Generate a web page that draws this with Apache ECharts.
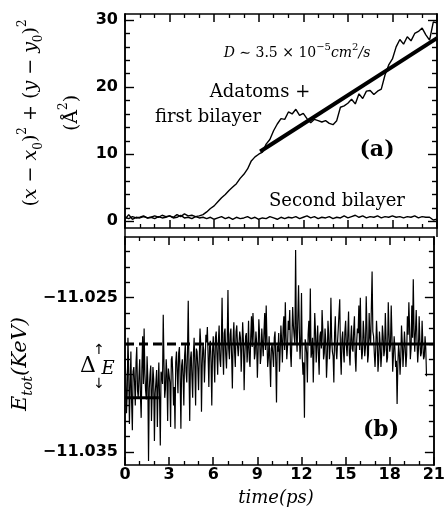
<!DOCTYPE html>
<html><head><meta charset="utf-8">
<script src="https://cdn.jsdelivr.net/npm/echarts@6/dist/echarts.min.js"></script>
<style>html,body{margin:0;padding:0;background:#fff}#c{width:448px;height:525px}</style>
</head><body><div id="c"></div>
<script>
// ---------- Panel (a): mean square displacement ----------
const timeA = [0,0.25,0.5,0.75,1,1.25,1.5,1.75,2,2.25,2.5,2.75,3,3.25,3.5,3.75,4,4.25,4.5,4.75,
  5,5.25,5.5,5.75,6,6.25,6.5,6.75,7,7.25,7.5,7.75,8,8.25,8.5,8.75,9,9.25,9.5,9.75,
  10,10.25,10.5,10.75,11,11.25,11.5,11.75,12,12.25,12.5,12.75,13,13.25,13.5,13.75,14,14.25,14.5,14.75,
  15,15.25,15.5,15.75,16,16.25,16.5,16.75,17,17.25,17.5,17.75,18,18.25,18.5,18.75,19,19.25,19.5,19.75,
  20,20.25,20.5,20.75,21];
const adatoms = [0.3,1.0,0.3,0.6,0.5,0.7,0.5,0.6,0.8,0.6,0.9,0.7,0.8,0.6,1.0,0.7,1.1,0.8,0.9,0.7,
  0.8,1.0,1.4,1.9,2.3,2.9,3.5,4.0,4.6,5.1,5.6,6.4,7.0,7.8,9.0,9.6,10.0,10.3,11.5,12.2,
  13.5,14.5,15.3,15.2,16.3,16.0,16.7,15.8,16.1,15.3,14.7,15.2,15.0,14.8,15.0,14.6,14.4,15.0,17.0,17.2,
  17.6,18.2,17.5,19.0,18.3,19.4,19.5,18.9,19.4,19.7,21.8,23.3,24.2,26.0,27.1,26.4,27.5,26.9,28.0,28.3,
  28.8,27.8,27.0,29.7,29.6];
const secondBilayer = [0.6,0.4,0.7,0.5,0.6,0.8,0.5,0.6,0.4,0.7,0.5,0.6,0.8,0.5,0.6,0.9,0.5,0.6,0.4,0.7,
  0.5,0.6,0.4,0.6,0.3,0.5,0.7,0.4,0.6,0.3,0.6,0.4,0.5,0.7,0.4,0.6,0.3,0.5,0.4,0.7,
  0.5,0.3,0.6,0.4,0.6,0.5,0.7,0.4,0.6,0.8,0.5,0.7,0.4,0.6,0.5,0.7,0.4,0.6,0.5,0.8,
  0.5,0.7,0.9,0.6,0.8,0.5,0.7,0.6,0.8,0.5,0.7,0.6,0.8,0.6,0.7,0.5,0.7,0.6,0.8,0.5,
  0.7,0.6,0.6,0.2,0.3];
const fitTime = [9.1, 21];
const fitMsd = [10.4, 27.3];

// ---------- Panel (b): total energy (spike samples + in-between samples) ----------
const timeE = [0,0.1,0.2,0.3,0.4,0.5,0.6,0.7,0.8,0.9,1,1.1,1.2,1.3,1.4,1.5,1.6,1.7,1.8,1.9,
  2,2.1,2.2,2.3,2.4,2.5,2.6,2.7,2.8,2.9,3,3.1,3.2,3.3,3.4,3.5,3.6,3.7,3.8,3.9,
  4,4.1,4.2,4.3,4.4,4.5,4.6,4.7,4.8,4.9,5,5.1,5.2,5.3,5.4,5.5,5.6,5.7,5.8,5.9,
  6,6.1,6.2,6.3,6.4,6.5,6.6,6.7,6.8,6.9,7,7.1,7.2,7.3,7.4,7.5,7.6,7.7,7.8,7.9,
  8,8.1,8.2,8.3,8.4,8.5,8.6,8.7,8.8,8.9,9,9.1,9.2,9.3,9.4,9.5,9.6,9.7,9.8,9.9,
  10,10.1,10.2,10.3,10.4,10.5,10.6,10.7,10.8,10.9,11,11.1,11.2,11.3,11.4,11.5,11.6,11.7,11.8,11.9,
  12,12.1,12.2,12.3,12.4,12.5,12.6,12.7,12.8,12.9,13,13.1,13.2,13.3,13.4,13.5,13.6,13.7,13.8,13.9,
  14,14.1,14.2,14.3,14.4,14.5,14.6,14.7,14.8,14.9,15,15.1,15.2,15.3,15.4,15.5,15.6,15.7,15.8,15.9,
  16,16.1,16.2,16.3,16.4,16.5,16.6,16.7,16.8,16.9,17,17.1,17.2,17.3,17.4,17.5,17.6,17.7,17.8,17.9,
  18,18.1,18.2,18.3,18.4,18.5,18.6,18.7,18.8,18.9,19,19.1,19.2,19.3,19.4,19.5,19.6,19.7,19.8,19.9,
  20,20.1,20.2,20.3,20.4,20.5];
const energy = [-11.0290,-11.0325,-11.0276,-11.0332,-11.0285,-11.0336,-11.0295,-11.0320,-11.0282,-11.0315,
  -11.0290,-11.0328,-11.0275,-11.0270,-11.0310,-11.0288,-11.0356,-11.0300,-11.0330,-11.0295,
  -11.0343,-11.0305,-11.0334,-11.0292,-11.0346,-11.0300,-11.0261,-11.0315,-11.0290,-11.0330,
  -11.0295,-11.0334,-11.0288,-11.0320,-11.0335,-11.0285,-11.0312,-11.0282,-11.0335,-11.0290,
  -11.0320,-11.0280,-11.0305,-11.0252,-11.0330,-11.0285,-11.0315,-11.0276,-11.0320,-11.0285,
  -11.0310,-11.0270,-11.0324,-11.0280,-11.0305,-11.0274,-11.0269,-11.0308,-11.0278,-11.0320,
  -11.0275,-11.0305,-11.0272,-11.0300,-11.0268,-11.0295,-11.0250,-11.0300,-11.0270,-11.0296,
  -11.0245,-11.0290,-11.0270,-11.0309,-11.0266,-11.0295,-11.0268,-11.0288,-11.0272,-11.0298,
  -11.0266,-11.0310,-11.0275,-11.0292,-11.0265,-11.0295,-11.0262,-11.0260,-11.0290,-11.0272,
  -11.0302,-11.0264,-11.0293,-11.0270,-11.0288,-11.0260,-11.0255,-11.0295,-11.0275,-11.0308,
  -11.0280,-11.0295,-11.0272,-11.0318,-11.0285,-11.0298,-11.0268,-11.0292,-11.0262,-11.0253,
  -11.0290,-11.0265,-11.0258,-11.0295,-11.0256,-11.0275,-11.0219,-11.0285,-11.0242,-11.0290,
  -11.0247,-11.0300,-11.0328,-11.0280,-11.0305,-11.0265,-11.0244,-11.0285,-11.0305,-11.0260,
  -11.0292,-11.0268,-11.0300,-11.0272,-11.0258,-11.0290,-11.0270,-11.0302,-11.0265,-11.0290,
  -11.0250,-11.0285,-11.0305,-11.0262,-11.0290,-11.0270,-11.0251,-11.0300,-11.0272,-11.0292,
  -11.0265,-11.0288,-11.0259,-11.0294,-11.0268,-11.0285,-11.0262,-11.0298,-11.0270,-11.0255,
  -11.0250,-11.0290,-11.0265,-11.0288,-11.0249,-11.0292,-11.0260,-11.0280,-11.0233,-11.0275,
  -11.0295,-11.0265,-11.0298,-11.0272,-11.0295,-11.0268,-11.0288,-11.0260,-11.0292,-11.0253,
  -11.0285,-11.0255,-11.0298,-11.0275,-11.0295,-11.0319,-11.0280,-11.0300,-11.0268,-11.0295,
  -11.0272,-11.0295,-11.0262,-11.0253,-11.0290,-11.0255,-11.0238,-11.0285,-11.0258,-11.0292,
  -11.0262,-11.0288,-11.0265,-11.0290,-11.0275,-11.0301];
const timeEMid = [0.05,0.15,0.25,0.35,0.45,0.55,0.65,0.75,0.85,0.95,1.05,1.15,1.25,1.35,1.45,1.55,1.65,1.75,1.85,1.95,
  2.05,2.15,2.25,2.35,2.45,2.55,2.65,2.75,2.85,2.95,3.05,3.15,3.25,3.35,3.45,3.55,3.65,3.75,3.85,3.95,
  4.05,4.15,4.25,4.35,4.45,4.55,4.65,4.75,4.85,4.95,5.05,5.15,5.25,5.35,5.45,5.55,5.65,5.75,5.85,5.95,
  6.05,6.15,6.25,6.35,6.45,6.55,6.65,6.75,6.85,6.95,7.05,7.15,7.25,7.35,7.45,7.55,7.65,7.75,7.85,7.95,
  8.05,8.15,8.25,8.35,8.45,8.55,8.65,8.75,8.85,8.95,9.05,9.15,9.25,9.35,9.45,9.55,9.65,9.75,9.85,9.95,
  10.05,10.15,10.25,10.35,10.45,10.55,10.65,10.75,10.85,10.95,11.05,11.15,11.25,11.35,11.45,11.55,11.65,11.75,11.85,11.95,
  12.05,12.15,12.25,12.35,12.45,12.55,12.65,12.75,12.85,12.95,13.05,13.15,13.25,13.35,13.45,13.55,13.65,13.75,13.85,13.95,
  14.05,14.15,14.25,14.35,14.45,14.55,14.65,14.75,14.85,14.95,15.05,15.15,15.25,15.35,15.45,15.55,15.65,15.75,15.85,15.95,
  16.05,16.15,16.25,16.35,16.45,16.55,16.65,16.75,16.85,16.95,17.05,17.15,17.25,17.35,17.45,17.55,17.65,17.75,17.85,17.95,
  18.05,18.15,18.25,18.35,18.45,18.55,18.65,18.75,18.85,18.95,19.05,19.15,19.25,19.35,19.45,19.55,19.65,19.75,19.85,19.95,
  20.05,20.15,20.25,20.35,20.45];
const energyMid = [-11.0300,-11.0312,-11.0296,-11.0308,-11.0318,-11.0298,-11.0305,-11.0292,-11.0310,-11.0301,
  -11.0314,-11.0295,-11.0306,-11.0299,-11.0316,-11.0302,-11.0309,-11.0294,-11.0311,-11.0303,
  -11.0312,-11.0297,-11.0307,-11.0315,-11.0298,-11.0306,-11.0293,-11.0309,-11.0300,-11.0296,
  -11.0305,-11.0290,-11.0300,-11.0308,-11.0292,-11.0298,-11.0286,-11.0303,-11.0294,-11.0301,
  -11.0288,-11.0298,-11.0285,-11.0296,-11.0290,-11.0301,-11.0287,-11.0294,-11.0283,-11.0295,
  -11.0290,-11.0280,-11.0293,-11.0284,-11.0291,-11.0279,-11.0288,-11.0282,-11.0292,-11.0285,
  -11.0289,-11.0276,-11.0286,-11.0278,-11.0290,-11.0280,-11.0284,-11.0273,-11.0287,-11.0279,
  -11.0283,-11.0274,-11.0288,-11.0277,-11.0285,-11.0272,-11.0281,-11.0289,-11.0276,-11.0284,
  -11.0278,-11.0287,-11.0273,-11.0283,-11.0290,-11.0275,-11.0282,-11.0271,-11.0286,-11.0279,
  -11.0285,-11.0274,-11.0288,-11.0280,-11.0272,-11.0284,-11.0277,-11.0289,-11.0275,-11.0283,
  -11.0287,-11.0276,-11.0291,-11.0281,-11.0273,-11.0285,-11.0278,-11.0270,-11.0284,-11.0276,
  -11.0282,-11.0271,-11.0286,-11.0275,-11.0268,-11.0280,-11.0273,-11.0285,-11.0270,-11.0279,
  -11.0288,-11.0292,-11.0277,-11.0286,-11.0274,-11.0281,-11.0289,-11.0276,-11.0284,-11.0272,
  -11.0280,-11.0287,-11.0275,-11.0283,-11.0271,-11.0286,-11.0278,-11.0290,-11.0274,-11.0282,
  -11.0276,-11.0288,-11.0273,-11.0284,-11.0279,-11.0270,-11.0287,-11.0277,-11.0285,-11.0272,
  -11.0281,-11.0274,-11.0286,-11.0277,-11.0283,-11.0271,-11.0288,-11.0279,-11.0273,-11.0284,
  -11.0278,-11.0285,-11.0274,-11.0282,-11.0270,-11.0287,-11.0276,-11.0281,-11.0272,-11.0286,
  -11.0283,-11.0276,-11.0290,-11.0280,-11.0287,-11.0275,-11.0284,-11.0277,-11.0289,-11.0273,
  -11.0281,-11.0275,-11.0288,-11.0283,-11.0291,-11.0294,-11.0286,-11.0289,-11.0279,-11.0285,
  -11.0282,-11.0287,-11.0274,-11.0270,-11.0283,-11.0276,-11.0271,-11.0285,-11.0277,-11.0284,
  -11.0278,-11.0286,-11.0280,-11.0288,-11.0283];
const lowLevelTime = [0, 2.3];
const lowLevel = [-11.0315, -11.0315];
const dashLevelTime = [0, 5.6];
const highLevelTime = [5.6, 21];
const highLevel = [-11.0280, -11.0280];

// ---------- Ticks ----------
const xTickValues = [0, 3, 6, 9, 12, 15, 18, 21];
const msdMajorTicks = [0, 10, 20, 30];
const msdMinorTicks = [2, 4, 6, 8, 12, 14, 16, 18, 22, 24, 26, 28];
const eMajorTicks = [-11.035, -11.030, -11.025];
const eMinorTicks = [-11.034, -11.033, -11.032, -11.031, -11.029, -11.028, -11.027, -11.026, -11.024, -11.023, -11.022, -11.021];
const eLabelTicks = [-11.035, -11.025];

const zip = (a, b) => a.map((v, i) => [v, b[i]]);
const energySeries = zip(timeE, energy).concat(zip(timeEMid, energyMid)).sort((p, q) => p[0] - q[0]);
const BLK = '#000';
const tickFont = { fontFamily: 'DejaVu Sans', fontWeight: 'bold', fontSize: 16, color: BLK };

function xAx(gi, pos, showLabel) {
  return {
    type: 'value', gridIndex: gi, position: pos, min: 0, max: 21, interval: 3,
    axisLine: { show: true, onZero: false, lineStyle: { color: BLK, width: 1.5 } },
    axisTick: { show: true, inside: true, length: 8, lineStyle: { color: BLK, width: 1.5 } },
    minorTick: { show: true, splitNumber: 3, length: 4, lineStyle: { color: BLK, width: 1.3 } },
    splitLine: { show: false }, minorSplitLine: { show: false },
    axisLabel: Object.assign({ show: showLabel, margin: 2, customValues: xTickValues }, tickFont)
  };
}
function yAx(gi, pos, min, max, ticks, len, labels, fmt) {
  return {
    type: 'value', gridIndex: gi, position: pos, min: min, max: max,
    axisLine: { show: true, onZero: false, lineStyle: { color: BLK, width: 1.5 } },
    axisTick: { show: true, inside: true, length: len, customValues: ticks, lineStyle: { color: BLK, width: 1.4 } },
    splitLine: { show: false },
    axisLabel: labels ? Object.assign({ show: true, margin: 7, customValues: labels, formatter: fmt }, tickFont) : { show: false }
  };
}
const eFmt = v => '\u2212' + Math.abs(v).toFixed(3);
const mFmt = v => String(Math.round(v));

const chart = echarts.init(document.getElementById('c'), null, { renderer: 'canvas' });
chart.setOption({
  animation: false,
  backgroundColor: '#fff',
  grid: [
    { left: 125, top: 14, width: 312, height: 214 },
    { left: 125, top: 237, width: 312, height: 228 }
  ],
  xAxis: [xAx(0, 'bottom', false), xAx(0, 'top', false), xAx(1, 'bottom', true), xAx(1, 'top', false)],
  yAxis: [
    yAx(0, 'left', -1.0, 30.9, msdMajorTicks, 9, msdMajorTicks, mFmt),
    yAx(0, 'left', -1.0, 30.9, msdMinorTicks, 5, null),
    yAx(0, 'right', -1.0, 30.9, msdMajorTicks, 9, null),
    yAx(0, 'right', -1.0, 30.9, msdMinorTicks, 5, null),
    yAx(1, 'left', -11.03586, -11.02106, eMajorTicks, 9, eLabelTicks, eFmt),
    yAx(1, 'left', -11.03586, -11.02106, eMinorTicks, 5, null),
    yAx(1, 'right', -11.03586, -11.02106, eMajorTicks, 9, null),
    yAx(1, 'right', -11.03586, -11.02106, eMinorTicks, 5, null)
  ],
  series: [
    { type: 'line', xAxisIndex: 0, yAxisIndex: 0, data: zip(timeA, secondBilayer), showSymbol: false, lineStyle: { color: BLK, width: 1.4 } },
    { type: 'line', xAxisIndex: 0, yAxisIndex: 0, data: zip(timeA, adatoms), showSymbol: false, lineStyle: { color: BLK, width: 1.4 } },
    { type: 'line', xAxisIndex: 0, yAxisIndex: 0, data: zip(fitTime, fitMsd), showSymbol: false, lineStyle: { color: BLK, width: 4 } },
    { type: 'line', xAxisIndex: 2, yAxisIndex: 4, data: energySeries, showSymbol: false, lineStyle: { color: BLK, width: 1.2 } },
    { type: 'line', xAxisIndex: 2, yAxisIndex: 4, data: zip(lowLevelTime, lowLevel), showSymbol: false, lineStyle: { color: BLK, width: 3 } },
    { type: 'line', xAxisIndex: 2, yAxisIndex: 4, data: zip(dashLevelTime, highLevel), showSymbol: false, lineStyle: { color: BLK, width: 3, type: [9, 5] } },
    { type: 'line', xAxisIndex: 2, yAxisIndex: 4, data: zip(highLevelTime, highLevel), showSymbol: false, lineStyle: { color: BLK, width: 3 } }
  ],
  graphic: [
    { type: 'line', shape: { x1: 125, y1: 228, x2: 125, y2: 237 }, style: { stroke: BLK, lineWidth: 1.5 } },
    { type: 'line', shape: { x1: 437, y1: 228, x2: 437, y2: 237 }, style: { stroke: BLK, lineWidth: 1.5 } },
    { type: 'text', x: 31, y: 113, rotation: Math.PI / 2, style: {
        text: '{r|(}{i|x}{r| \u2212 }{i|x}{s|0}{r|)}{p|2}{r| + (}{i|y}{r| \u2212 }{i|y}{s|0}{r|)}{p|2}',
        align: 'center', verticalAlign: 'middle',
        rich: {
          r: { fontFamily: 'DejaVu Serif', fontSize: 19, lineHeight: 28, verticalAlign: 'middle', fill: BLK },
          i: { fontFamily: 'DejaVu Serif', fontStyle: 'italic', fontSize: 19, lineHeight: 28, verticalAlign: 'middle', fill: BLK },
          s: { fontFamily: 'DejaVu Serif', fontSize: 12, verticalAlign: 'bottom', fill: BLK },
          p: { fontFamily: 'DejaVu Serif', fontSize: 12, verticalAlign: 'top', fill: BLK }
        } } },
    { type: 'text', x: 72, y: 113, rotation: Math.PI / 2, style: {
        text: '{r|(\u00C5}{p|2}{r|)}', align: 'center', verticalAlign: 'middle',
        rich: {
          r: { fontFamily: 'DejaVu Serif', fontSize: 19, lineHeight: 28, verticalAlign: 'middle', fill: BLK },
          p: { fontFamily: 'DejaVu Serif', fontSize: 12, verticalAlign: 'top', fill: BLK }
        } } },
    { type: 'text', x: 21, y: 364, rotation: Math.PI / 2, style: {
        text: '{i|E}{s|tot}{i|(KeV)}', align: 'center', verticalAlign: 'middle',
        rich: {
          i: { fontFamily: 'DejaVu Serif', fontStyle: 'italic', fontSize: 21, lineHeight: 28, verticalAlign: 'middle', fill: BLK },
          s: { fontFamily: 'DejaVu Serif', fontStyle: 'italic', fontSize: 14, verticalAlign: 'bottom', fill: BLK }
        } } },
    { type: 'text', x: 99, y: 350, style: { text: '\u2191', font: '14px DejaVu Sans', fill: BLK, align: 'center', verticalAlign: 'middle' } },
    { type: 'text', x: 88, y: 366, style: { text: '\u0394', font: '22px DejaVu Serif', fill: BLK, align: 'center', verticalAlign: 'middle' } },
    { type: 'text', x: 108, y: 369, style: { text: 'E', font: 'italic 18px DejaVu Serif', fill: BLK, align: 'center', verticalAlign: 'middle' } },
    { type: 'text', x: 99, y: 384, style: { text: '\u2193', font: '14px DejaVu Sans', fill: BLK, align: 'center', verticalAlign: 'middle' } },
    { type: 'text', x: 297, y: 53, style: {
        text: '{i|D}{r| \u223C 3.5 \u00D7 10}{p|\u22125}{i|cm}{p|2}{i|/s}', align: 'center', verticalAlign: 'middle',
        rich: {
          r: { fontFamily: 'DejaVu Serif', fontSize: 14, lineHeight: 22, verticalAlign: 'middle', fill: BLK },
          i: { fontFamily: 'DejaVu Serif', fontStyle: 'italic', fontSize: 14, lineHeight: 22, verticalAlign: 'middle', fill: BLK },
          p: { fontFamily: 'DejaVu Serif', fontSize: 10, verticalAlign: 'top', fill: BLK }
        } } },
    { type: 'text', x: 260, y: 92, style: { text: 'Adatoms +', font: '18px DejaVu Serif', fill: BLK, align: 'center', verticalAlign: 'middle' } },
    { type: 'text', x: 208, y: 117, style: { text: 'first bilayer', font: '18px DejaVu Serif', fill: BLK, align: 'center', verticalAlign: 'middle' } },
    { type: 'text', x: 337, y: 201, style: { text: 'Second bilayer', font: '18px DejaVu Serif', fill: BLK, align: 'center', verticalAlign: 'middle' } },
    { type: 'text', x: 377, y: 150, style: { text: '(a)', font: 'bold 22px DejaVu Serif', fill: BLK, align: 'center', verticalAlign: 'middle' } },
    { type: 'text', x: 381, y: 430, style: { text: '(b)', font: 'bold 22px DejaVu Serif', fill: BLK, align: 'center', verticalAlign: 'middle' } },
    { type: 'text', x: 276, y: 498, style: { text: 'time(ps)', font: 'italic 18px DejaVu Serif', fill: BLK, align: 'center', verticalAlign: 'middle' } }
  ]
});
</script>
</body></html>
